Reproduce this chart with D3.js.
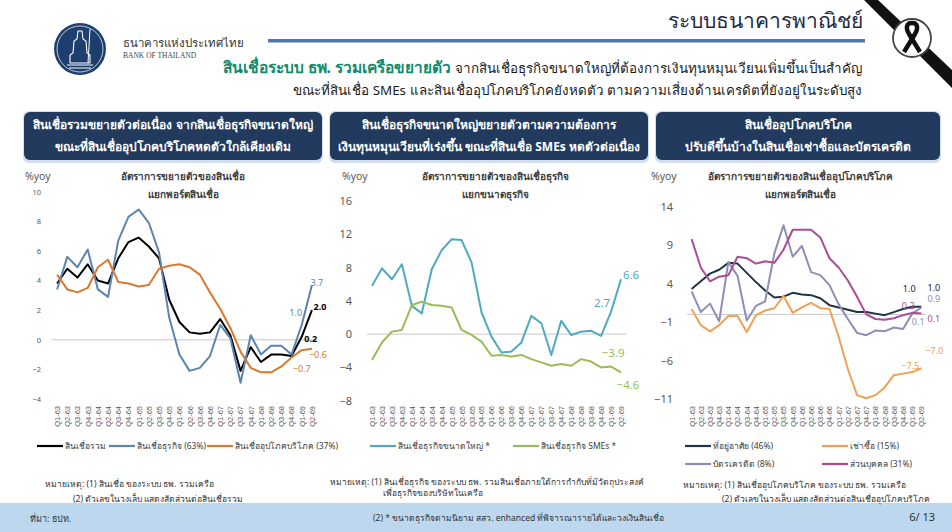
<!DOCTYPE html>
<meta charset="utf-8">
<style>
body { margin: 0; background: #fff; }
svg { font-family: "Noto Sans", "DejaVu Sans", sans-serif; }
.tick text { fill: #595959; }
</style>
<body>
<script src="https://d3js.org/d3.v7.min.js"></script>
<script>
var width = 952,
    height = 532;

// quarters (Thai fiscal years)
var quarters = ["Q1-63","Q2-63","Q3-63","Q4-63","Q1-64","Q2-64","Q3-64","Q4-64",
  "Q1-65","Q2-65","Q3-65","Q4-65","Q1-66","Q2-66","Q3-66","Q4-66",
  "Q1-67","Q2-67","Q3-67","Q4-67","Q1-68","Q2-68","Q3-68","Q4-68","Q1-69","Q2-69"];

// chart 1: loan portfolio
var totalLoan    = [3.8,4.8,4.2,5.1,4.0,3.8,5.5,6.6,6.9,6.3,5.5,2.7,1.2,0.5,0.4,0.5,1.4,0.3,-2.1,-0.5,-1.5,-1.0,-1.0,-1.1,0.2,2.0];
var businessLoan = [3.4,5.6,4.9,6.1,3.4,2.9,6.7,8.3,8.8,7.9,5.9,1.5,-1.0,-2.1,-1.9,-1.1,1.0,0.1,-2.9,0.3,-1.0,-0.4,-0.4,-1.0,1.0,3.7];
var consumerLoan = [4.4,3.4,3.2,3.5,4.9,5.4,3.9,3.8,3.6,3.7,4.8,5.0,5.1,4.9,4.4,3.2,2.1,0.8,-0.8,-1.9,-2.2,-2.2,-1.8,-1.2,-0.7,-0.6];
var ticks1 = [-4,-2,0,2,4,6,8,10];

// chart 2: business loans by firm size
var largeCorp = [5.8,7.9,6.6,8.4,3.4,2.5,7.8,10.1,11.4,11.3,8.6,2.6,-0.3,-2.2,-2.1,-1.0,2.2,1.3,-2.5,1.6,-0.1,0.3,0.4,-0.2,2.7,6.6];
var smeLoan   = [-3.1,-1.0,0.3,0.5,3.5,3.9,3.5,3.4,3.2,0.5,-0.1,-0.9,-2.6,-2.5,-2.7,-2.5,-3.0,-3.4,-3.8,-3.6,-3.8,-3.0,-3.3,-4.0,-3.9,-4.6];
var ticks2 = [-8,-4,0,4,8,12,16];

// chart 3: consumer loans by portfolio
var housing      = [3.3,4.3,5.3,5.8,6.7,6.6,5.4,4.2,3.1,2.2,2.3,2.8,2.6,2.5,2.1,1.2,0.9,0.6,0.3,0.3,0.1,-0.1,0.3,0.7,1.0,1.0];
var hirePurchase = [0.7,-1.4,-2.2,-1.4,-0.2,-0.2,-2.3,-0.1,0.5,0.8,2.4,0.2,0.9,1.5,0.8,0.7,-2.9,-7.1,-10.5,-10.9,-10.5,-9.5,-7.9,-7.7,-7.5,-7.0];
var creditCard   = [3.0,0.3,1.4,-0.9,6.8,5.0,-0.8,1.1,1.7,7.9,11.6,7.5,8.9,5.5,5.1,3.8,1.3,-0.6,-2.4,-2.7,-2.1,-2.2,-1.7,-1.9,0.1,0.9];
var personal     = [9.8,6.1,4.3,4.9,5.1,7.5,7.3,6.6,6.9,6.7,8.4,11.0,11.0,11.0,10.0,7.3,6.1,4.4,2.3,0.0,-0.6,-0.7,-0.5,-0.1,0.2,0.1];
var ticks3 = [-11,-6,-1,4,9,14];

var svg = d3.select("body").append("svg")
    .attr("width", width)
    .attr("height", height);

// ---------- header ----------
var logo = svg.append("g").attr("transform", "translate(80,49)");
logo.append("circle").attr("r", 26).attr("fill", "#1e3f6d");
logo.append("circle").attr("r", 23).attr("fill", "none").attr("stroke", "#fff").attr("stroke-width", 0.7);
logo.append("path")
    .attr("d", "M-2,-18 L2,-18 L3,-10 L6,-8 L7,4 L10,6 L10,14 L-10,14 L-10,6 L-7,4 L-6,-8 L-3,-10 Z")
    .attr("fill", "none").attr("stroke", "#fff").attr("stroke-width", 1.1);
logo.append("line").attr("x1", 10).attr("y1", -20).attr("x2", 8).attr("y2", 14)
    .attr("stroke", "#fff").attr("stroke-width", 1);
logo.append("path").attr("d", "M-13,16 L13,16 M-11,19 L11,19")
    .attr("stroke", "#fff").attr("stroke-width", 1);

svg.append("text").attr("x", 123).attr("y", 47)
    .attr("font-size", 11.5).attr("fill", "#333")
    .text("ธนาคารแห่งประเทศไทย");
svg.append("text").attr("x", 123).attr("y", 58)
    .attr("font-family", "Liberation Serif, serif")
    .attr("font-size", 7.5).attr("fill", "#444")
    .text("BANK OF THAILAND");

svg.append("text").attr("x", 863).attr("y", 28)
    .attr("text-anchor", "end").attr("font-size", 21).attr("fill", "#1f2a44")
    .text("ระบบธนาคารพาณิชย์");

svg.append("rect").attr("x", 268).attr("y", 39).attr("width", 597).attr("height", 3.5)
    .attr("fill", "#4f76b0");

var sub1 = svg.append("text").attr("x", 862).attr("y", 73)
    .attr("text-anchor", "end").attr("font-size", 13.4).attr("fill", "#1a1a1a");
sub1.append("tspan").attr("fill", "#138a6c").attr("font-weight", "bold").attr("font-size", 15.5)
    .text("สินเชื่อระบบ ธพ. รวมเครือขยายตัว ");
sub1.append("tspan").text("จากสินเชื่อธุรกิจขนาดใหญ่ที่ต้องการเงินทุนหมุนเวียนเพิ่มขึ้นเป็นสำคัญ");
svg.append("text").attr("x", 862).attr("y", 95)
    .attr("text-anchor", "end").attr("font-size", 13.4).attr("fill", "#1a1a1a")
    .text("ขณะที่สินเชื่อ SMEs และสินเชื่ออุปโภคบริโภคยังหดตัว ตามความเสี่ยงด้านเครดิตที่ยังอยู่ในระดับสูง");

// mourning sash
svg.append("path").attr("d", "M864,0 L878,0 L952,70 L952,88 Z").attr("fill", "#111");
svg.append("circle").attr("cx", 912).attr("cy", 38).attr("r", 19)
    .attr("fill", "#fff").attr("stroke", "#444").attr("stroke-width", 1.8);
svg.append("path")
    .attr("d", "M904,52 L915,34 C919,27 917,23 912,23 C907,23 905,27 909,34 L920,52")
    .attr("fill", "none").attr("stroke", "#111").attr("stroke-width", 4.5)
    .attr("stroke-linejoin", "round");

// ---------- panel headers ----------
var panels = [
  {x: 24, w: 298, lines: ["สินเชื่อรวมขยายตัวต่อเนื่อง จากสินเชื่อธุรกิจขนาดใหญ่", "ขณะที่สินเชื่ออุปโภคบริโภคหดตัวใกล้เคียงเดิม"]},
  {x: 330, w: 318, lines: ["สินเชื่อธุรกิจขนาดใหญ่ขยายตัวตามความต้องการ", "เงินทุนหมุนเวียนที่เร่งขึ้น ขณะที่สินเชื่อ SMEs หดตัวต่อเนื่อง"]},
  {x: 656, w: 284, lines: ["สินเชื่ออุปโภคบริโภค", "ปรับดีขึ้นบ้างในสินเชื่อเช่าซื้อและบัตรเครดิต"]}
];
panels.forEach(function(p) {
  svg.append("rect").attr("x", p.x - 1).attr("y", 111).attr("width", p.w + 2).attr("height", 52)
      .attr("rx", 6).attr("fill", "#d3deec");
  svg.append("rect").attr("x", p.x).attr("y", 112).attr("width", p.w).attr("height", 48)
      .attr("rx", 6).attr("fill", "#213a5e");
  p.lines.forEach(function(t, i) {
    svg.append("text").attr("x", p.x + p.w / 2).attr("y", 129 + i * 22)
        .attr("text-anchor", "middle").attr("font-size", 12).attr("font-weight", "bold")
        .attr("fill", "#fff").text(t);
  });
});

// ---------- charts ----------
function drawChart(c) {
  var g = svg.append("g");
  var x = d3.scalePoint().domain(quarters).range(c.xRange).padding(0.5);
  var y = d3.scaleLinear().domain(c.yDomain).range(c.yRange);

  // zero line
  g.append("line")
      .attr("x1", c.xRange[0]).attr("x2", c.xRange[1])
      .attr("y1", y(0)).attr("y2", y(0))
      .attr("stroke", "#c8c8c8").attr("stroke-width", 1);

  // y axis labels
  var ya = g.append("g")
      .attr("transform", "translate(" + c.yLabelX + ",0)")
      .call(d3.axisLeft(y).tickValues(c.ticks).tickSize(0).tickPadding(0));
  ya.select(".domain").remove();
  ya.selectAll("text").attr("font-size", c.yFont).attr("font-family", "Noto Sans, sans-serif");

  // x axis labels (rotated)
  var xa = g.append("g")
      .attr("transform", "translate(0," + c.xLabelY + ")")
      .call(d3.axisBottom(x).tickSize(0).tickPadding(0));
  xa.select(".domain").remove();
  xa.selectAll("text")
      .attr("font-size", 7.5)
      .attr("transform", "rotate(-90)")
      .attr("text-anchor", "end")
      .attr("dx", 0).attr("dy", "0.32em").attr("x", 0).attr("y", 0);

  var line = d3.line()
      .x(function(d, i) { return x(quarters[i]); })
      .y(function(d) { return y(d); });

  c.series.forEach(function(s) {
    g.append("path").datum(s.values)
        .attr("d", line)
        .attr("fill", "none")
        .attr("stroke", s.color)
        .attr("stroke-width", 2)
        .attr("stroke-linejoin", "round");
  });

  // end labels
  c.labels.forEach(function(l) {
    var s = c.series[l.s];
    g.append("text")
        .attr("x", x(quarters[l.i]) + l.dx)
        .attr("y", y(s.values[l.i]) + l.dy)
        .attr("text-anchor", "middle")
        .attr("font-size", c.labelFont)
        .attr("font-weight", l.bold ? "bold" : null)
        .attr("fill", l.color || s.color)
        .text(d3.format(".1f")(s.values[l.i]));
  });

  // unit + title
  g.append("text").attr("x", c.unitX).attr("y", 180)
      .attr("font-size", 10.5).attr("fill", "#595959").text("%yoy");
  c.title.forEach(function(t, i) {
    g.append("text").attr("x", c.titleX).attr("y", 180 + i * 18)
        .attr("text-anchor", "middle").attr("font-size", 10).attr("font-weight", "bold")
        .attr("fill", "#404040").text(t);
  });

  // legend
  c.legend.forEach(function(l) {
    var s = c.series[l.s];
    g.append("line").attr("x1", l.x).attr("x2", l.x + 26).attr("y1", l.y).attr("y2", l.y)
        .attr("stroke", s.color).attr("stroke-width", 2.2);
    g.append("text").attr("x", l.x + 28).attr("y", l.y + 3)
        .attr("font-size", 8.5).attr("fill", "#404040").text(l.text);
  });

  // notes
  c.notes.forEach(function(n) {
    g.append("text").attr("x", n.x).attr("y", n.y)
        .attr("font-size", 8.5).attr("fill", "#333").text(n.text);
  });
}

// footer band goes under the notes
svg.append("rect").attr("x", 0).attr("y", 503).attr("width", width).attr("height", 29)
    .attr("fill", "#bdd7ee");

drawChart({
  xRange: [52, 317], yDomain: [-4, 10], yRange: [399, 191.7],
  ticks: ticks1, yLabelX: 41, yFont: 7.5, xLabelY: 406, labelFont: 9,
  series: [
    {values: totalLoan, color: "#000"},
    {values: businessLoan, color: "#5b84b1"},
    {values: consumerLoan, color: "#d9792f"}
  ],
  labels: [
    {s: 1, i: 25, dx: 5, dy: 1},
    {s: 0, i: 25, dx: 8, dy: 0, bold: true},
    {s: 1, i: 24, dx: -6, dy: -9},
    {s: 0, i: 24, dx: 9, dy: 5, bold: true},
    {s: 2, i: 25, dx: 6, dy: 9},
    {s: 2, i: 24, dx: 0, dy: 22}
  ],
  unitX: 25, titleX: 183,
  title: ["อัตราการขยายตัวของสินเชื่อ", "แยกพอร์ตสินเชื่อ"],
  legend: [
    {s: 0, x: 37, y: 446, text: "สินเชื่อรวม"},
    {s: 1, x: 109, y: 446, text: "สินเชื่อธุรกิจ (63%)"},
    {s: 2, x: 207, y: 446, text: "สินเชื่ออุปโภคบริโภค (37%)"}
  ],
  notes: [
    {x: 45, y: 487, text: "หมายเหตุ: (1) สินเชื่อ ของระบบ ธพ. รวมเครือ"},
    {x: 73, y: 502, text: "(2) ตัวเลขในวงเล็บ แสดงสัดส่วนต่อสินเชื่อรวม"}
  ]
});

drawChart({
  xRange: [367, 626], yDomain: [-8, 16], yRange: [400.7, 201],
  ticks: ticks2, yLabelX: 352, yFont: 11, xLabelY: 406, labelFont: 11.5,
  series: [
    {values: largeCorp, color: "#4fa9c3"},
    {values: smeLoan, color: "#9bbb59"}
  ],
  labels: [
    {s: 0, i: 25, dx: 10, dy: 0},
    {s: 0, i: 24, dx: -9, dy: -5},
    {s: 1, i: 24, dx: 2, dy: -10},
    {s: 1, i: 25, dx: 7, dy: 17}
  ],
  unitX: 342, titleX: 495,
  title: ["อัตราการขยายตัวของสินเชื่อธุรกิจ", "แยกขนาดธุรกิจ"],
  legend: [
    {s: 0, x: 370, y: 446, text: "สินเชื่อธุรกิจขนาดใหญ่ *"},
    {s: 1, x: 513, y: 446, text: "สินเชื่อธุรกิจ SMEs *"}
  ],
  notes: [
    {x: 330, y: 485, text: "หมายเหตุ: (1) สินเชื่อธุรกิจ ของระบบ ธพ. รวมสินเชื่อภายใต้การกำกับที่มีวัตถุประสงค์"},
    {x: 383, y: 496, text: "เพื่อธุรกิจของบริษัทในเครือ"},
    {x: 373, y: 521, text: "(2) * ขนาดธุรกิจตามนิยาม สสว. enhanced ที่พิจารณารายได้และวงเงินสินเชื่อ"}
  ]
});

drawChart({
  xRange: [687, 926], yDomain: [-11, 14], yRange: [399, 206.7],
  ticks: ticks3, yLabelX: 673, yFont: 11, xLabelY: 406, labelFont: 9,
  series: [
    {values: housing, color: "#1f3447"},
    {values: hirePurchase, color: "#f0a057"},
    {values: creditCard, color: "#8f8db6"},
    {values: personal, color: "#ac4c93"}
  ],
  labels: [
    {s: 0, i: 24, dx: -3, dy: -15, color: "#1a1a1a"},
    {s: 0, i: 25, dx: 12.5, dy: -16, color: "#1a1a1a"},
    {s: 3, i: 24, dx: -4, dy: -4},
    {s: 2, i: 25, dx: 12.5, dy: -5},
    {s: 2, i: 24, dx: 6, dy: 11},
    {s: 3, i: 25, dx: 12.5, dy: 8},
    {s: 1, i: 24, dx: -2, dy: -3},
    {s: 1, i: 25, dx: 13, dy: -14}
  ],
  unitX: 651, titleX: 800,
  title: ["อัตราการขยายตัวของสินเชื่ออุปโภคบริโภค", "แยกพอร์ตสินเชื่อ"],
  legend: [
    {s: 0, x: 685, y: 446, text: "ที่อยู่อาศัย (46%)"},
    {s: 1, x: 822, y: 446, text: "เช่าซื้อ (15%)"},
    {s: 2, x: 685, y: 464, text: "บัตรเครดิต (8%)"},
    {s: 3, x: 822, y: 464, text: "ส่วนบุคคล (31%)"}
  ],
  notes: [
    {x: 683, y: 488, text: "หมายเหตุ: (1) สินเชื่ออุปโภคบริโภค ของระบบ ธพ. รวมเครือ"},
    {x: 722, y: 502, text: "(2) ตัวเลขในวงเล็บ แสดงสัดส่วนต่อสินเชื่ออุปโภคบริโภค"}
  ]
});

// footer
svg.append("text").attr("x", 30).attr("y", 522)
    .attr("font-size", 9).attr("fill", "#333").text("ที่มา: ธปท.");
svg.append("text").attr("x", 935).attr("y", 521).attr("text-anchor", "end")
    .attr("font-size", 11).attr("fill", "#333").text("6/ 13");
</script>
</body>
</html>
